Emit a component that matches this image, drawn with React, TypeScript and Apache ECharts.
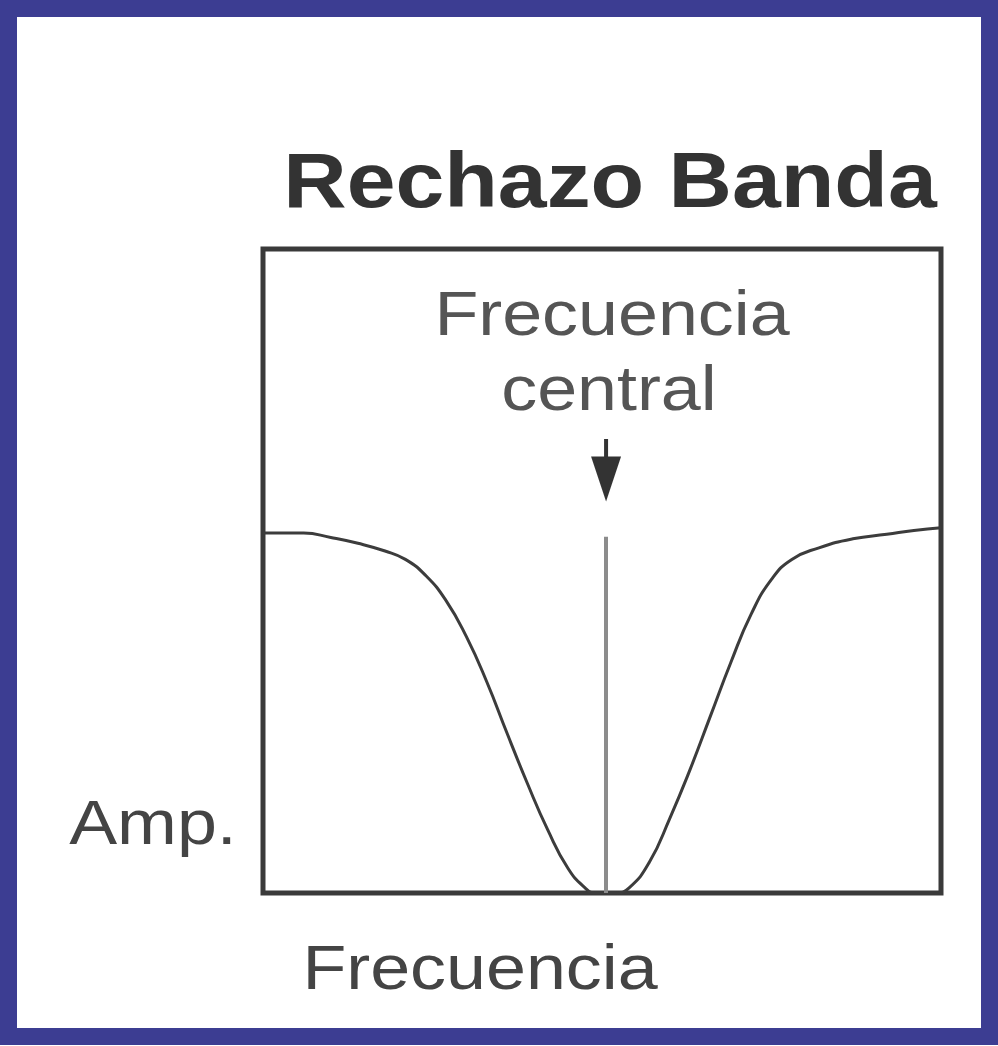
import React, { useEffect, useRef } from "react";
import * as echarts from "echarts";

// Frequency (0-100 across the box) and amplitude (0-100 up the box)
const freq = [0, 6, 10, 14, 18, 21, 24, 27, 30, 33, 36, 39, 42, 45, 47.5, 49,
  52, 54, 57, 60, 63, 66, 69, 72, 75, 78, 82, 87, 92, 96, 100];
const amp = [55.9, 55.9, 55.2, 54.3, 53.1, 51.8, 49.3, 45.4, 39.8, 32.8, 24.8, 17.0, 9.8, 3.8, 0.8, 0,
  0, 0.8, 4.8, 11.6, 19.2, 27.5, 35.8, 43.3, 48.7, 51.8, 53.6, 55.0, 55.7, 56.3, 56.7];
const centerFreq = 50.6;
const centerLineTop = 55.3;
const arrowStart = 70.5;
const arrowTip = 60.8;

const title = "Rechazo Banda";
const centerLabel = ["Frecuencia", "central"];
const yLabel = "Amp.";
const xLabel = "Frecuencia";

export default function App() {
  const ref = useRef<HTMLDivElement>(null);
  useEffect(() => {
    if (!ref.current) return;
    const chart = echarts.init(ref.current, null, { renderer: "svg" });
    const data = freq.map((f, i) => [f, amp[i]]);
    const sx = 1.14;
    const textStyle = (text: string, font: string, fill: string) => ({
      text, font, fill, textAlign: "center", textVerticalAlign: "middle",
    });
    chart.setOption({
      animation: false,
      backgroundColor: "#ffffff",
      grid: {
        left: 263, top: 249, width: 678, height: 644,
        show: true, borderColor: "#3a3a3a", borderWidth: 5, backgroundColor: "transparent",
      },
      xAxis: {
        type: "value", min: 0, max: 100,
        axisLine: { show: false }, axisTick: { show: false }, axisLabel: { show: false }, splitLine: { show: false },
      },
      yAxis: {
        type: "value", min: 0, max: 100,
        axisLine: { show: false }, axisTick: { show: false }, axisLabel: { show: false }, splitLine: { show: false },
      },
      series: [
        {
          type: "line",
          data,
          smooth: 0.5,
          showSymbol: false,
          lineStyle: { color: "#3c3c3c", width: 3 },
          z: 3,
          markLine: {
            silent: true,
            symbol: ["none", "none"],
            label: { show: false },
            lineStyle: { color: "#8c8c8c", width: 4, type: "solid" },
            data: [[{ coord: [centerFreq, 0] }, { coord: [centerFreq, centerLineTop] }]],
          },
        },
      ],
    });
    const px = (x: number, y: number) => chart.convertToPixel({ gridIndex: 0 }, [x, y]) as number[];
    const a0 = px(centerFreq, arrowStart);
    const a1 = px(centerFreq, arrowTip);
    const headTop = a1[1] - 45;
    chart.setOption({
      graphic: [
        {
          type: "rect", silent: true,
          shape: { x: 8.5, y: 8.5, width: 981, height: 1028 },
          style: { fill: "none", stroke: "#3c3d92", lineWidth: 17 },
        },
        {
          type: "text", x: 610, y: 180, scaleX: sx,
          style: textStyle(title, "bold 77px 'Liberation Sans', Arial, sans-serif", "#333333"),
        },
        {
          type: "text", x: 612, y: 313, scaleX: sx,
          style: textStyle(centerLabel[0], "63px 'Liberation Sans', Arial, sans-serif", "#555555"),
        },
        {
          type: "text", x: 609, y: 388, scaleX: sx,
          style: textStyle(centerLabel[1], "63px 'Liberation Sans', Arial, sans-serif", "#555555"),
        },
        {
          type: "text", x: 153, y: 822, scaleX: sx,
          style: textStyle(yLabel, "63px 'Liberation Sans', Arial, sans-serif", "#444444"),
        },
        {
          type: "text", x: 480, y: 967, scaleX: sx,
          style: textStyle(xLabel, "63px 'Liberation Sans', Arial, sans-serif", "#444444"),
        },
        {
          type: "line", silent: true,
          shape: { x1: a0[0], y1: a0[1], x2: a0[0], y2: headTop + 2 },
          style: { stroke: "#333333", lineWidth: 4 },
        },
        {
          type: "polygon", silent: true,
          shape: { points: [[a1[0] - 15, headTop], [a1[0] + 15, headTop], [a1[0], a1[1]]] },
          style: { fill: "#333333" },
        },
      ],
    });
    return () => chart.dispose();
  }, []);
  return (
    <div
      ref={ref}
      style={{ position: "fixed", left: 0, top: 0, width: 998, height: 1046 }}
    />
  );
}
